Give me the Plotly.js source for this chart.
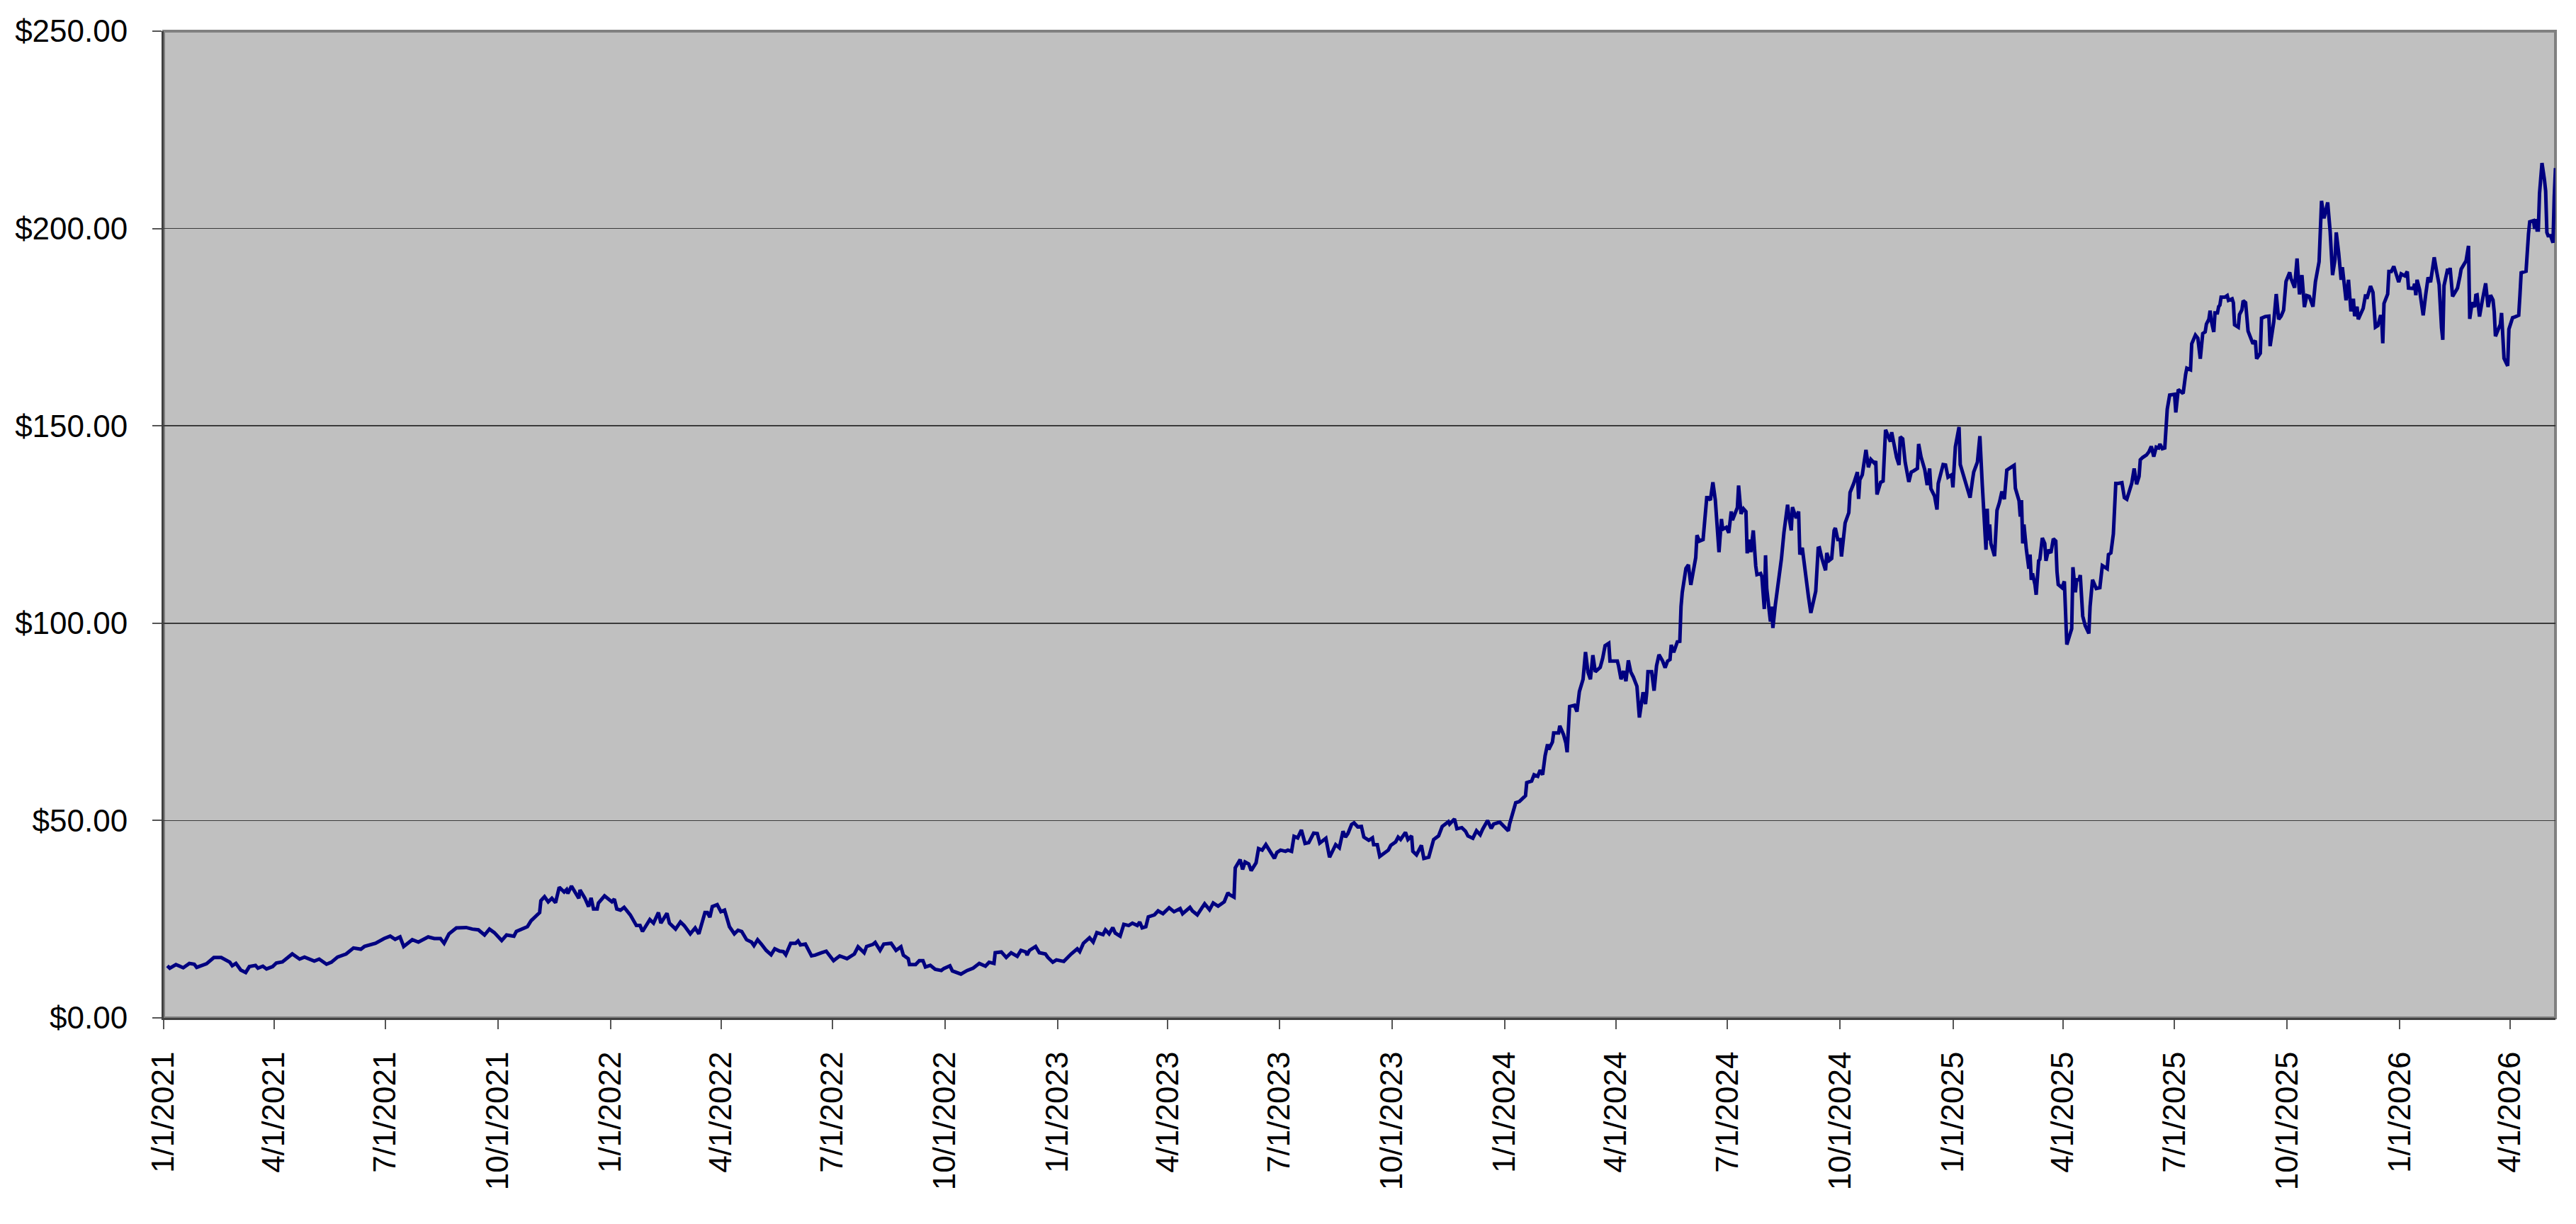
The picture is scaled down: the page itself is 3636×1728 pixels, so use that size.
<!DOCTYPE html>
<html>
<head>
<meta charset="utf-8">
<script src="https://cdn.plot.ly/plotly-3.0.1.min.js"></script>
<style>
  html, body { margin: 0; padding: 0; background: #ffffff; }
  #chart { width: 3636px; height: 1728px; }
</style>
</head>
<body>
<div id="chart"></div>
<script>
const daysSinceStart = [
3,5,10,16,21,25,27,35,41,47,54,56,59,63,67,70,75,77,81,84,89,92,97,105,111,115,123,127,133,137,142,149,155,161,164,169,173,180,185,189,193,196,203,208,216,221,226,229,233,239,247,252,257,262,266,270,273,276,280,286,288,293,297,300,304,307,308,311,314,317,320,323,327,329,330,333,336,339,340,344,347,349,351,354,355,360,366,368,370,373,376,379,381,386,389,391,397,
400,404,406,411,413,418,422,425,430,434,437,440,442,444,446,448,452,455,458,462,466,469,472,476,480,482,485,488,492,496,499,503,506,508,512,516,518,520,524,529,532,537,541,547,552,558,564,567,572,574,579,581,585,588,594,598,602,604,608,609,614,617,620,622,626,630,635,637,642,644,651,656,661,666,671,674,678,679,684,688,692,697,700,704,705,707,712,715,720,722,726,729,735,741,746,748,751,756,759,762,767,769,772,775,777,781,784,788,791,
795,797,799,802,804,809,812,816,821,825,830,832,838,840,844,846,850,854,857,861,866,869,870,874,875,879,881,883,886,888,892,894,897,900,907,909,912,916,918,921,923,926,929,932,935,939,942,944,949,952,957,960,963,965,967,970,972,975,978,980,984,987,988,991,993,997,1000,1002,1006,1008,1010,1014,1016,1019,1020,1023,1027,1029,1033,1037,1041,1044,1047,1049,1050,1054,1056,1060,1063,1065,1069,1072,1075,1077,1081,1084,1086,1091,1098,1099,1104,1107,1112,
1113,1117,1119,1122,1124,1126,1128,1130,1131,1134,1135,1139,1140,1143,1145,1146,1148,1152,1154,1156,1159,1161,1163,1165,1167,1169,1173,1175,1177,1180,1181,1187,1188,1190,1192,1194,1196,1198,1200,1203,1205,1208,1210,1211,1212,1215,1217,1219,1221,1224,1226,1228,1230,1231,1233,1236,1238,1239,1240,1243,1245,1247,1251,1252,1254,1257,1258,1260,1261,1263,1265,1267,1270,1272,1273,1276,1278,1280,1281,1283,1285,1286,1288,1290,1292,1293,1295,1296,1298,1300,1301,1304,1305,1307,1308,1309,1312,1313,1314,1316,1318,1321,1323,1326,1327,1329,1330,1333,1335,1336,1338,1342,1343,1345,1347,1349,1351,1352,1354,1357,1358,1360,1362,1364,1365,1367,1369,1370,1373,1376,1377,1379,1380,1383,1384,1385,1387,1390,1392,1394,1397,1398,1399,1402,1404,1406,1410,1411,1413,1415,1417,1418,1420,1422,1425,1427,1429,1432,1433,1435,1438,1440,1442,1443,1446,1448,1449,1453,1455,1457,1460,1461,1463,1466,1467,1471,1475,1477,1478,1481,1483,1485,
1488,1489,1490,1491,1492,1495,1497,1499,1501,1503,1505,1509,1511,1512,1515,1516,1517,1518,1519,1521,1523,1524,1525,1526,1528,1529,1531,1532,1534,1536,1537,1539,1541,1543,1545,1546,1547,1550,1552,1554,1557,1558,1559,1561,1562,1564,1565,1567,1569,1572,1573,1575,1578,1581,1583,1587,1588,1590,1592,1594,1596,1599,1601,1603,1605,1607,1609,1611,1613,1614,1616,1619,1621,1623,1625,1627,1629,1630,1632,1634,1636,1638,1642,1643,1645,1647,1649,1651,1652,1655,1656,1659,1661,1663,1665,1667,1668,1670,1671,1672,1674,1675,1677,1678,1679,1680,1683,1685,1686,1689,1690,1691,1694,1695,1697,1698,1700,1702,1704,1706,1708,1709,1712,1713,1716,1719,1720,1723,1725,1727,1729,1731,1733,1736,1737,1740,1742,1744,1746,1748,1750,1752,1755,1757,1760,1762,1764,1767,1769,1771,1773,1774,1776,1778,1779,1782,1784,1786,1788,1789,1791,1792,1796,1798,1799,1802,1804,1806,1808,1810,
1811,1812,1813,1816,1817,1819,1821,1823,1825,1827,1830,1832,1833,1837,1838,1839,1840,1842,1845,1847,1849,1851,1853,1854,1856,1858,1860,1861,1862,1865,1866,1867,1869,1873,1875,1876,1880,1882,1883,1885,1887,1888,1889,1891,1893,1896,1898,1900,1902,1903,1904,1907,1908,1909,1910,1911,1913,1914,1915,1918,1920,1923,1924,1925,1929,1930,1931,1932,1935,1936,1937,1938,1939,1940,1942,1944,1945,1946,1947,1949,1951,1952,1953
];

// Closing price in dollars for each observation
const closePrice = [
13.2,12.6,13.5,12.7,13.8,13.6,12.8,13.7,15.3,15.3,14.1,13.2,13.8,12.1,11.5,13.0,13.3,12.6,13.1,12.4,13.0,13.9,14.2,16.2,14.9,15.4,14.4,14.9,13.6,14.1,15.4,16.2,17.7,17.4,18.1,18.6,18.9,20.1,20.7,19.9,20.5,18.1,19.8,19.2,20.5,20.1,20.1,18.9,21.3,22.8,22.9,22.5,22.3,21.0,22.5,21.6,20.5,19.6,21.0,20.7,21.9,22.5,23.1,24.6,25.8,26.7,29.7,30.7,29.4,30.3,29.2,33.1,31.9,32.5,31.5,33.4,31.8,30.3,32.4,30.3,28.2,30.4,27.6,27.6,29.1,30.9,29.4,30.1,27.6,27.3,28.0,26.7,26.1,23.4,23.4,21.9,24.9,
24.0,26.7,24.0,26.5,24.0,22.5,24.3,23.4,21.3,22.8,21.3,24.6,26.7,26.7,25.5,28.2,28.7,26.9,27.3,23.1,21.3,22.2,21.9,19.8,19.2,18.3,19.8,18.7,17.1,16.0,17.5,16.9,16.8,16.0,18.9,18.9,19.5,18.5,18.7,15.7,15.9,16.5,16.9,14.5,15.7,15.0,16.2,18.0,16.5,18.1,18.6,19.1,17.1,18.7,18.9,17.1,18.0,15.9,15.0,13.5,13.5,14.5,14.5,12.9,13.3,12.3,12.0,12.5,13.2,11.9,11.1,12.0,12.6,13.8,13.1,14.1,13.8,16.5,16.7,15.3,16.5,15.6,17.1,16.7,15.9,17.1,18.1,16.5,16.2,15.3,14.1,14.7,14.3,16.2,17.5,16.8,18.9,20.3,19.2,21.6,21.1,22.3,21.3,22.9,21.5,20.7,23.7,23.4,24.0,
23.4,24.3,22.8,23.1,25.6,26.1,27.1,26.4,27.9,26.9,27.7,26.4,28.0,27.1,26.1,27.1,28.9,27.4,29.1,28.3,29.4,31.7,31.3,30.6,38.0,40.1,37.6,39.5,39.0,37.3,39.3,42.9,42.5,43.9,40.4,41.9,42.5,42.2,42.5,42.2,46.0,45.6,47.6,44.2,44.4,46.8,46.7,44.3,45.5,40.7,43.9,43.1,47.3,45.8,46.7,49.0,49.4,48.4,48.5,45.8,45.0,45.6,43.9,43.9,40.9,41.8,42.5,43.7,44.6,45.8,45.2,47.0,45.2,46.1,42.2,41.3,43.7,40.4,40.7,45.2,46.1,48.5,49.1,49.7,49.1,50.4,47.9,48.2,47.3,46.1,45.5,47.4,46.4,47.8,50.0,48.0,49.1,49.6,47.4,49.1,54.5,54.8,56.3,
59.6,60.0,61.6,61.2,62.8,61.6,66.4,69.3,68.0,69.9,72.2,72.2,74.0,71.8,69.6,67.3,78.9,79.2,77.6,82.7,85.8,92.7,87.6,85.8,91.9,87.7,88.8,91.1,94.3,94.9,90.4,90.4,89.2,85.8,87.9,85.3,90.6,87.6,86.4,84.0,76.1,82.5,79.5,82.5,87.7,87.7,82.9,89.2,92.0,90.4,88.7,90.4,90.8,94.5,92.6,95.3,95.4,104.2,107.8,113.9,114.8,109.7,116.6,122.3,120.8,121.2,125.4,131.8,131.8,131.2,135.7,131.2,118.0,126.4,123.8,124.3,122.9,128.3,126.1,127.9,129.3,134.9,127.7,129.0,128.3,117.7,121.2,118.0,123.5,114.5,112.3,112.6,111.8,103.6,117.2,108.7,100.4,104.2,98.8,104.6,109.1,116.4,122.9,130.0,127.3,123.5,129.4,126.6,128.3,117.4,119.1,108.0,106.8,102.6,105.2,108.1,119.0,119.1,116.4,113.4,117.8,115.9,116.4,123.5,124.1,121.2,121.2,116.9,125.4,128.0,133.1,134.5,135.4,138.3,131.5,136.3,137.6,143.9,139.5,141.5,140.5,141.1,132.6,135.7,136.0,149.0,146.0,148.4,145.3,142.0,140.1,147.2,146.7,140.8,135.8,138.3,138.6,139.2,145.4,142.1,138.9,135.0,139.2,134.1,132.2,128.8,135.4,140.2,140.1,137.0,137.6,134.4,144.7,149.7,140.2,135.7,131.8,136.3,138.3,140.8,147.4,135.0,
118.6,129.0,121.0,125.0,120.2,117.0,128.6,130.6,133.4,131.4,138.8,139.6,140.0,134.2,131.0,127.0,131.2,120.2,125.0,118.6,113.8,117.4,111.0,112.6,109.8,107.2,115.8,116.2,121.6,120.2,115.8,118.6,117.8,121.4,120.8,113.0,109.8,109.0,110.6,94.6,97.4,98.6,114.2,107.8,111.0,111.0,112.2,101.8,99.4,97.4,104.2,111.0,108.8,109.0,114.6,113.8,117.4,117.8,122.6,135.4,135.4,135.6,131.8,131.4,133.4,135.4,139.2,135.2,137.2,141.4,142.0,142.6,143.4,144.8,142.2,144.6,144.4,145.4,144.2,144.4,154.2,157.8,158.0,153.4,159.2,158.6,158.2,163.0,164.6,164.2,170.8,173.0,172.2,167.0,173.4,173.8,175.8,177.0,179.2,176.6,173.8,178.6,178.6,180.2,180.6,182.6,182.6,183.0,181.8,182.2,181.2,175.6,175.0,178.2,179.4,181.7,181.2,174.0,172.2,170.8,171.6,167.0,168.4,177.3,177.7,177.8,170.2,176.4,183.4,177.0,177.8,179.3,186.6,188.9,187.4,185.0,192.4,183.3,188.2,180.1,183.0,182.8,180.2,186.5,191.6,207.0,202.6,206.6,199.4,188.2,192.2,199.0,193.8,187.0,190.2,181.8,187.0,179.0,182.2,177.8,180.2,177.0,179.8,183.3,182.2,185.4,183.8,175.0,175.4,177.7,
177.7,170.9,181.0,183.4,189.1,189.1,190.4,188.2,186.4,188.5,188.0,189.1,184.9,184.8,186.0,183.1,187.0,184.6,178.0,183.1,187.6,186.4,190.6,192.7,189.1,185.8,174.8,171.8,185.5,189.8,188.5,190.0,182.8,184.9,187.9,189.7,191.8,195.6,177.1,181.3,180.1,183.1,183.2,177.7,181.3,186.1,180.1,183.1,181.9,178.9,172.7,174.9,175.7,178.6,171.2,167.1,165.8,165.2,174.5,177.4,177.6,178.0,183.1,188.8,189.2,196.6,198.7,201.7,202.0,199.9,202.4,199.6,199.6,208.9,216.6,212.4,209.5,199.0,198.2,198.2,196.4,208.0,215.3
];

// Quarterly tick dates and their labels
const tickDates = ['2021-01-01','2021-04-01','2021-07-01','2021-10-01','2022-01-01','2022-04-01','2022-07-01','2022-10-01','2023-01-01','2023-04-01','2023-07-01','2023-10-01','2024-01-01','2024-04-01','2024-07-01','2024-10-01','2025-01-01','2025-04-01','2025-07-01','2025-10-01','2026-01-01','2026-04-01'];
const tickLabels = ['1/1/2021','4/1/2021','7/1/2021','10/1/2021','1/1/2022','4/1/2022','7/1/2022','10/1/2022','1/1/2023','4/1/2023','7/1/2023','10/1/2023','1/1/2024','4/1/2024','7/1/2024','10/1/2024','1/1/2025','4/1/2025','7/1/2025','10/1/2025','1/1/2026','4/1/2026'];
const priceTicks = [0, 50, 100, 150, 200, 250];
const priceLabels = ['$0.00', '$50.00', '$100.00', '$150.00', '$200.00', '$250.00'];

const startDate = '2021-01-01';
const baseMs = Date.UTC(2021, 0, 1);
const dates = daysSinceStart.map(d => new Date(baseMs + d * 86400000).toISOString().slice(0, 10));
const endDate = dates[dates.length - 1];

const fontFamily = 'Liberation Sans, Arial, Helvetica, sans-serif';

const trace = {
  type: 'scatter',
  mode: 'lines',
  x: dates,
  y: closePrice,
  line: { color: '#000080', width: 5 },
  hoverinfo: 'x+y'
};

const layout = {
  width: 3636,
  height: 1728,
  margin: { l: 231, r: 29, t: 44, b: 291, pad: 0 },
  paper_bgcolor: '#ffffff',
  plot_bgcolor: '#c0c0c0',
  showlegend: false,
  font: { family: fontFamily, size: 44, color: '#000000' },
  xaxis: {
    type: 'date',
    range: [startDate, endDate],
    tickmode: 'array',
    tickvals: tickDates,
    ticktext: tickLabels,
    tickangle: -90,
    ticks: 'outside',
    ticklen: 13,
    tickwidth: 2,
    tickcolor: '#555555',
    showgrid: false,
    zeroline: false,
    showline: true,
    linecolor: '#404040',
    linewidth: 3,
    ticklabelstandoff: 14,
    tickfont: { family: fontFamily, size: 44, color: '#000000' }
  },
  yaxis: {
    range: [0, 250],
    tickmode: 'array',
    tickvals: priceTicks,
    ticktext: priceLabels,
    ticks: 'outside',
    ticklen: 13,
    tickwidth: 2,
    tickcolor: '#555555',
    showgrid: true,
    gridcolor: '#3a3a3a',
    gridwidth: 1.5,
    zeroline: false,
    showline: true,
    linecolor: '#404040',
    linewidth: 3,
    ticklabelstandoff: 26,
    tickfont: { family: fontFamily, size: 44, color: '#000000' }
  },
  shapes: [{
    type: 'rect', xref: 'paper', yref: 'paper', x0: 0, y0: 0, x1: 1, y1: 1,
    line: { color: '#808080', width: 4 }, fillcolor: 'rgba(0,0,0,0)', layer: 'between'
  }]
};

Plotly.newPlot('chart', [trace], layout, { staticPlot: true, displayModeBar: false });
</script>
</body>
</html>
